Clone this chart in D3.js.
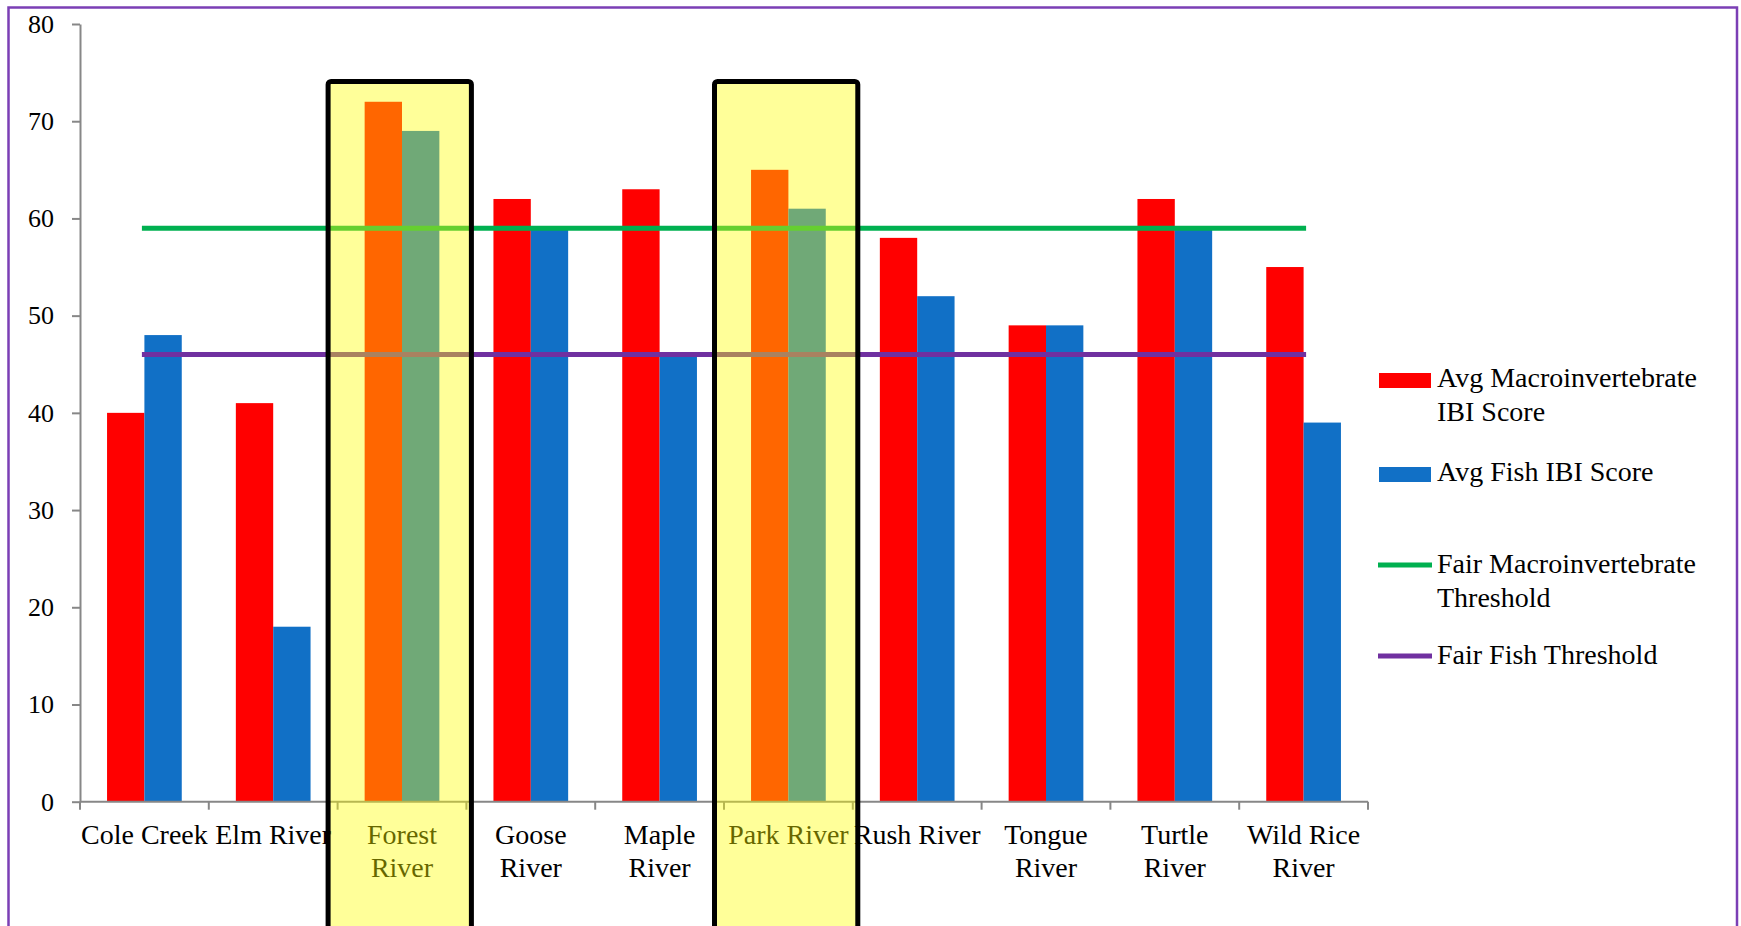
<!DOCTYPE html>
<html>
<head>
<meta charset="utf-8">
<script src="https://cdn.jsdelivr.net/npm/d3@7"></script>
<style>
  body { margin: 0; background: #ffffff; }
  svg { display: block; font-family: "Liberation Serif", "Times New Roman", serif; }
</style>
</head>
<body>
<svg id="chart" width="1741" height="926"></svg>
<script>
// River sites and their average IBI scores
const categories = ["Cole Creek", "Elm River", "Forest River", "Goose River", "Maple River",
                    "Park River", "Rush River", "Tongue River", "Turtle River", "Wild Rice River"];
const macroScores = [40, 41, 72, 62, 63, 65, 58, 49, 62, 55];
const fishScores  = [48, 18, 69, 59, 46, 61, 52, 49, 59, 39];

// "Fair" condition thresholds, drawn as flat lines across all sites
const macroThreshold = [59, 59, 59, 59, 59, 59, 59, 59, 59, 59];
const fishThreshold  = [46, 46, 46, 46, 46, 46, 46, 46, 46, 46];

// Sites called out with a highlight box
const highlighted = ["Forest River", "Park River"];

const yTicks = [0, 10, 20, 30, 40, 50, 60, 70, 80];

const barSeries  = ["Avg Macroinvertebrate IBI Score", "Avg Fish IBI Score"];
const lineSeries = ["Fair Macroinvertebrate Threshold", "Fair Fish Threshold"];

const colors = {
  macro: "#ff0000",
  fish: "#1170c6",
  macroLine: "#00b050",
  fishLine: "#7030a0",
  axis: "#878787",
  frame: "#7b3fb5"
};

const svg = d3.select("#chart");
const W = 1741, H = 926;
const plot = { left: 80, right: 1368, top: 24, bottom: 801.7 };

svg.append("rect").attr("width", W).attr("height", H).attr("fill", "#ffffff");

// Outer frame (bottom edge runs off the page)
svg.append("rect")
  .attr("x", 8.5).attr("y", 7.5)
  .attr("width", 1737 - 8.5).attr("height", H + 20)
  .attr("fill", "none").attr("stroke", colors.frame).attr("stroke-width", 2.5);

// Scales
const x = d3.scaleBand().domain(categories).range([plot.left, plot.right]).paddingInner(0).paddingOuter(0);
const bw = x.bandwidth();
const xSub = d3.scaleBand().domain(barSeries).range([0, bw]).paddingInner(0).paddingOuter(0.724);
const y = d3.scaleLinear().domain([0, 80]).range([plot.bottom, plot.top]);

// Bars
const rows = categories.map((c, i) => ({ cat: c, values: [macroScores[i], fishScores[i]] }));
const groups = svg.append("g").selectAll("g").data(rows).join("g")
  .attr("transform", d => `translate(${x(d.cat)},0)`);
groups.selectAll("rect")
  .data(d => d.values.map((v, k) => ({ key: barSeries[k], v })))
  .join("rect")
  .attr("x", d => xSub(d.key))
  .attr("width", xSub.bandwidth())
  .attr("y", d => y(d.v))
  .attr("height", d => y(0) - y(d.v))
  .attr("fill", (d, k) => k === 0 ? colors.macro : colors.fish);

// Threshold lines, from first site centre to last site centre
const line = d3.line()
  .x((d, i) => x(categories[i]) + bw / 2)
  .y(d => y(d));
[[macroThreshold, colors.macroLine], [fishThreshold, colors.fishLine]].forEach(([vals, col]) => {
  svg.append("path")
    .datum(vals)
    .attr("d", line)
    .attr("fill", "none")
    .attr("stroke", col)
    .attr("stroke-width", 5)
    .attr("stroke-linecap", "square");
});

// Y axis
const yAxis = svg.append("g")
  .attr("transform", `translate(${plot.left},0)`)
  .call(d3.axisLeft(y).tickValues(yTicks).tickSize(8).tickSizeOuter(0).tickPadding(18));
yAxis.select(".domain").attr("stroke", colors.axis).attr("stroke-width", 2);
yAxis.selectAll(".tick line").attr("stroke", colors.axis).attr("stroke-width", 2);
yAxis.selectAll(".tick text")
  .attr("fill", "#000").attr("font-size", 26)
  .attr("font-family", "'Liberation Serif', serif");

// X axis: baseline plus ticks at category boundaries
const xAxis = svg.append("g");
xAxis.append("line")
  .attr("x1", plot.left).attr("x2", plot.right)
  .attr("y1", y(0)).attr("y2", y(0))
  .attr("stroke", colors.axis).attr("stroke-width", 2);
const bounds = categories.map(c => x(c)).concat([x(categories[categories.length - 1]) + bw]);
xAxis.selectAll("line.tick").data(bounds).join("line")
  .attr("class", "tick")
  .attr("x1", d => d).attr("x2", d => d)
  .attr("y1", y(0)).attr("y2", y(0) + 8)
  .attr("stroke", colors.axis).attr("stroke-width", 2);

// Greedy word wrap to a pixel width
function wrapWords(textSel, str, maxW) {
  const words = str.split(" ");
  const lines = [];
  let cur = "";
  words.forEach(w => {
    const trial = cur ? cur + " " + w : w;
    textSel.text(trial);
    if (cur && textSel.node().getComputedTextLength() > maxW) {
      lines.push(cur);
      cur = w;
    } else {
      cur = trial;
    }
  });
  if (cur) lines.push(cur);
  textSel.text(null);
  return lines;
}

// Category labels
const labelG = svg.append("g");
categories.forEach(c => {
  const t = labelG.append("text")
    .attr("font-size", 28).attr("fill", "#000").attr("text-anchor", "middle");
  const lines = wrapWords(t, c, bw);
  lines.forEach((ln, i) => {
    t.append("tspan")
      .attr("x", x(c) + bw / 2)
      .attr("y", 844 + i * 33)
      .text(ln);
  });
});

// Legend
const legendItems = [
  { name: barSeries[0], type: "bar", color: colors.macro, base: 387 },
  { name: barSeries[1], type: "bar", color: colors.fish, base: 481 },
  { name: lineSeries[0], type: "line", color: colors.macroLine, base: 573 },
  { name: lineSeries[1], type: "line", color: colors.fishLine, base: 664 }
];
const legend = svg.append("g");
legendItems.forEach(item => {
  if (item.type === "bar") {
    legend.append("rect")
      .attr("x", 1379).attr("y", item.base - 14)
      .attr("width", 52).attr("height", 15)
      .attr("fill", item.color);
  } else {
    legend.append("line")
      .attr("x1", 1378).attr("x2", 1432)
      .attr("y1", item.base - 8).attr("y2", item.base - 8)
      .attr("stroke", item.color).attr("stroke-width", 5);
  }
  const t = legend.append("text").attr("font-size", 28).attr("fill", "#000");
  const lines = wrapWords(t, item.name, 295);
  lines.forEach((ln, i) => {
    t.append("tspan").attr("x", 1437).attr("y", item.base + i * 34).text(ln);
  });
});

// Highlight boxes: translucent yellow wash with a heavy black outline
const hl = svg.append("g");
highlighted.forEach(c => {
  const bx = x(c) - 9.5, bwid = bw + 14.5, by = 81.5;
  hl.append("rect")
    .attr("x", bx).attr("y", by)
    .attr("width", bwid).attr("height", H + 40 - by)
    .attr("fill", "#ffff00").attr("fill-opacity", 0.4);
  hl.append("rect")
    .attr("x", bx).attr("y", by)
    .attr("width", bwid).attr("height", H + 40 - by)
    .attr("rx", 3)
    .attr("fill", "none").attr("stroke", "#000").attr("stroke-width", 5);
});
</script>
</body>
</html>
